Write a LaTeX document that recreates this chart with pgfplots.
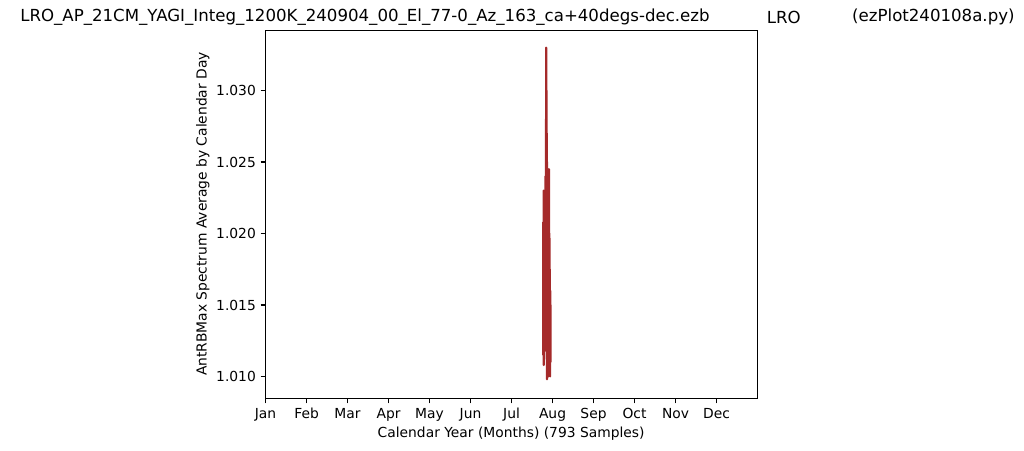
\documentclass[border=0pt]{standalone}
\usepackage{pgfplots}
\pgfplotsset{compat=1.18}
\usepackage{fontspec}
\setmainfont{DejaVu Sans}
\definecolor{mplbrown}{RGB}{165,42,42}
\begin{document}
\begin{tikzpicture}
\useasboundingbox (0,0) rectangle (737.28bp,324.72bp);
\begin{axis}[
  at={(191.2bp,37.8bp)}, anchor=south west,
  scale only axis, width=354.2bp, height=265bp,
  xmin=0, xmax=12, ymin=1.008462, ymax=1.034196,
  axis line style={line width=0.8pt},
  tick align=outside, major tick length=3.5pt,
  every tick/.style={black, line width=0.8pt},
  xtick pos=lower, ytick pos=left,
  xtick={0,1,2,3,4,5,6,7,8,9,10,11},
  xticklabels={Jan,Feb,Mar,Apr,May,Jun,Jul,Aug,Sep,Oct,Nov,Dec},
  ytick={1.010,1.015,1.020,1.025,1.030},
  yticklabel style={/pgf/number format/fixed, /pgf/number format/precision=3, /pgf/number format/fixed zerofill},
  scaled y ticks=false,
  /pgf/number format/assume math mode=true,
  tick label style={font=\fontsize{10}{12}\selectfont},
]
\addplot[mplbrown, line width=1.5pt, line join=round] coordinates {
(6.770,1.0115) (6.774,1.0208) (6.778,1.0125) (6.782,1.0230) (6.786,1.0108)
(6.790,1.0195) (6.794,1.0112) (6.798,1.0215) (6.802,1.0120) (6.806,1.0200)
(6.810,1.0130) (6.815,1.0225) (6.820,1.0118) (6.826,1.0240) (6.832,1.0135)
(6.838,1.0280) (6.842,1.0150) (6.846,1.0330) (6.850,1.0160) (6.854,1.0300)
(6.858,1.0120) (6.862,1.0270) (6.866,1.0098) (6.870,1.0250) (6.874,1.0110)
(6.878,1.0220) (6.882,1.0105) (6.886,1.0245) (6.890,1.0118) (6.895,1.0230)
(6.900,1.0100) (6.905,1.0210) (6.910,1.0110) (6.915,1.0245) (6.920,1.0102)
(6.925,1.0200) (6.930,1.0120) (6.935,1.0175) (6.940,1.0100) (6.945,1.0160)
(6.950,1.0110) (6.955,1.0150)
};
\end{axis}
\node[anchor=west, font=\fontsize{12}{14}\selectfont, inner sep=0pt] at (14.4bp,312.5bp) {LRO\_AP\_21CM\_YAGI\_Integ\_1200K\_240904\_00\_El\_77-0\_Az\_163\_ca+40degs-dec.ezb};
\node[anchor=west, font=\fontsize{12}{14}\selectfont, inner sep=0pt] at (552bp,312.5bp) {LRO};
\node[anchor=west, font=\fontsize{12}{14}\selectfont, inner sep=0pt] at (613.4bp,312.5bp) {(ezPlot240108a.py)};
\node[font=\fontsize{10}{12}\selectfont, inner sep=0pt] at (368bp,12.2bp) {Calendar Year (Months) (793 Samples)};
\node[font=\fontsize{10}{12}\selectfont, inner sep=0pt, rotate=90] at (146bp,170.6bp) {AntRBMax Spectrum Average by Calendar Day};
\end{tikzpicture}
\end{document}
